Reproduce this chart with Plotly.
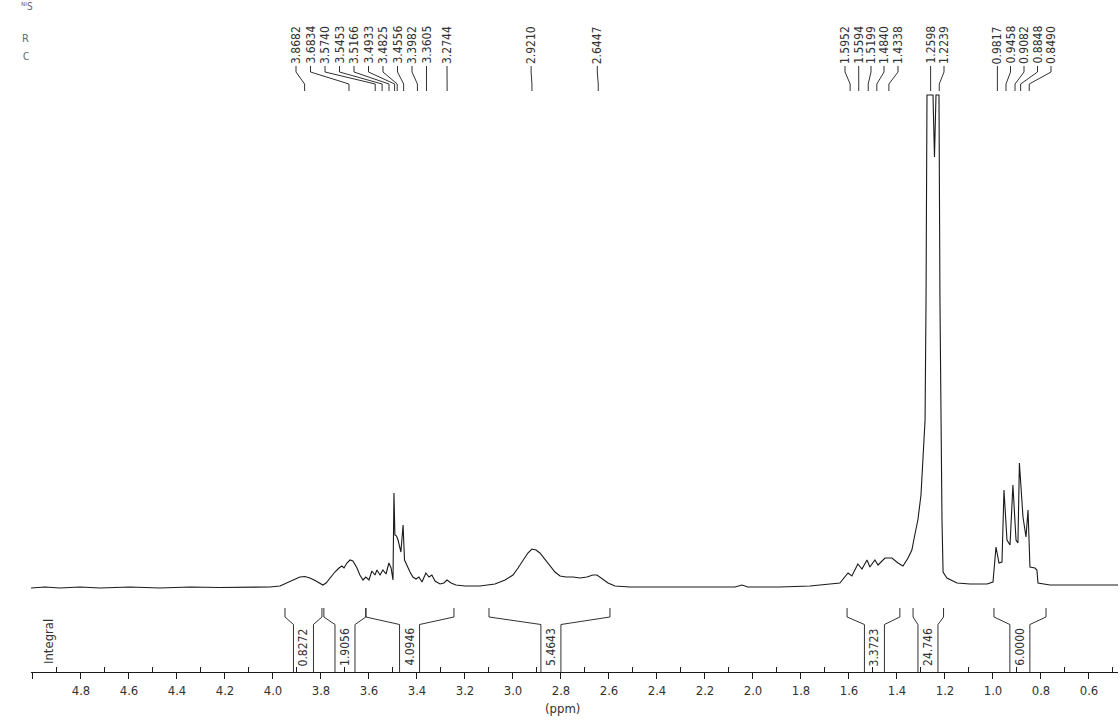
import plotly.graph_objects as go

# ---------------- data ----------------
# spectrum trace (chemical shift, ppm) and intensity (arbitrary units above baseline)
ppm = [5.008, 4.950, 4.888, 4.804, 4.721, 4.596, 4.471, 4.346, 4.221, 4.096, 4.013,
       3.971, 3.942, 3.917, 3.888, 3.867, 3.846, 3.821, 3.792, 3.779, 3.763, 3.742,
       3.725, 3.713, 3.704, 3.692, 3.679, 3.667, 3.650, 3.638, 3.625, 3.613, 3.600,
       3.588, 3.575, 3.567, 3.554, 3.542, 3.529, 3.517, 3.508, 3.500, 3.496, 3.492,
       3.485, 3.479, 3.467, 3.458, 3.452, 3.442, 3.429, 3.417, 3.404, 3.392, 3.379,
       3.363, 3.350, 3.338, 3.325, 3.304, 3.288, 3.275, 3.258, 3.238, 3.200, 3.138,
       3.075, 3.033, 3.000, 2.979, 2.958, 2.938, 2.921, 2.904, 2.888, 2.867, 2.846,
       2.825, 2.804, 2.779, 2.750, 2.721, 2.692, 2.667, 2.650, 2.629, 2.604, 2.575,
       2.513, 2.388, 2.221, 2.075, 2.046, 2.021, 1.888, 1.763, 1.679, 1.638, 1.604,
       1.588, 1.563, 1.546, 1.525, 1.513, 1.492, 1.479, 1.450, 1.421, 1.396, 1.375,
       1.354, 1.338, 1.325, 1.313, 1.300, 1.292, 1.283, 1.279, 1.275, 1.250, 1.2438,
       1.2375, 1.225, 1.221, 1.217, 1.2125, 1.208, 1.192, 1.150, 1.096, 1.025, 1.000,
       0.9875, 0.975, 0.9625, 0.9542, 0.9417, 0.929, 0.917, 0.904, 0.896, 0.890,
       0.875, 0.8625, 0.854, 0.846, 0.825, 0.817, 0.8125, 0.7625, 0.6375, 0.479]
intensity = [-1, 0, -1, 0, -1, 0, -1, 0, -0.5, 0, 0,
             1, 4, 7, 10, 10.5, 9, 6, 2, 4, 9, 15,
             19, 21, 19, 24, 27, 26, 19, 12, 7, 10, 7,
             16, 12, 17, 12, 17, 13, 24, 19, 7, 94, 52,
             51, 47, 35, 62, 27, 21, 15, 10, 8, 10, 5,
             14, 10, 12, 6, 3, 4, 7, 4, 2, 1, 1,
             3, 7, 12, 19, 27, 34, 38, 37, 34, 28, 21,
             15, 11, 10, 10, 9, 10, 12, 12, 8, 4, 1,
             0, 0, 0, 0, 2, 0, 0, 1, 3, 4, 14,
             11, 23, 18, 27, 20, 27, 22, 29, 29, 24, 21,
             29, 37, 53, 67, 92, 122, 167, 287, 492, 492, 430,
             492, 492, 287, 147, 67, 15, 9, 4, 3, 3, 5,
             40, 24, 25, 97, 47, 42, 102, 47, 44, 124,
             70, 50, 77, 20, 19, 17, 4, 2, 2, 2]

# picked peaks
peak_ppm = [3.8682, 3.6834, 3.5740, 3.5453, 3.5166, 3.4933, 3.4825, 3.4556, 3.3982,
            3.3605, 3.2744, 2.9210, 2.6447, 1.5952, 1.5594, 1.5199, 1.4840, 1.4338,
            1.2598, 1.2239, 0.9817, 0.9458, 0.9082, 0.8848, 0.8490]
peak_text = ["3.8682", "3.6834", "3.5740", "3.5453", "3.5166", "3.4933", "3.4825",
             "3.4556", "3.3982", "3.3605", "3.2744", "2.9210", "2.6447", "1.5952",
             "1.5594", "1.5199", "1.4840", "1.4338", "1.2598", "1.2239", "0.9817",
             "0.9458", "0.9082", "0.8848", "0.8490"]

# integrals: region start / end (ppm) and value
int_start = [3.950, 3.788, 3.613, 3.100, 1.608, 1.333, 0.996]
int_end = [3.796, 3.613, 3.246, 2.596, 1.388, 1.206, 0.779]
int_value = ["0.8272", "1.9056", "4.0946", "5.4643", "3.3723", "24.746", "6.0000"]

# axis ticks
major_ticks = [5.0, 4.8, 4.6, 4.4, 4.2, 4.0, 3.8, 3.6, 3.4, 3.2, 3.0, 2.8, 2.6, 2.4,
               2.2, 2.0, 1.8, 1.6, 1.4, 1.2, 1.0, 0.8, 0.6]
major_text = ["", "4.8", "4.6", "4.4", "4.2", "4.0", "3.8", "3.6", "3.4", "3.2", "3.0",
              "2.8", "2.6", "2.4", "2.2", "2.0", "1.8", "1.6", "1.4", "1.2", "1.0",
              "0.8", "0.6"]
minor_ticks = [4.9, 4.7, 4.5, 4.3, 4.1, 3.9, 3.7, 3.5, 3.3, 3.1, 2.9, 2.7, 2.5, 2.3,
               2.1, 1.9, 1.7, 1.5, 1.3, 1.1, 0.9, 0.7, 0.5]

# ---------------- layout constants ----------------
W, H = 1120, 720
ML, MR, MT, MB = 31, 2, 0, 48
PW, PH = W - ML - MR, H - MT - MB
PX_PER_PPM = 240.0
X_LEFT = 5.0083
X_RIGHT = X_LEFT - PW / PX_PER_PPM
FONT = "DejaVu Sans Condensed, DejaVu Sans, sans-serif"
INK = "#1a1a1a"
TXT = "#333333"


def px2ppm(xpx):
    return X_LEFT - (xpx - ML) / PX_PER_PPM


# label column positions (pixels) for the peak labels
label_col_px = [296, 310.5, 325, 339.5, 354, 368.5, 383, 397.5, 412, 426.5, 447,
                531.1, 597.3, 845, 858.7, 871, 884, 898, 930.6, 944, 997.4,
                1010.5, 1024, 1037.5, 1051]
int_label_ppm = [3.873, 3.700, 3.431, 2.842, 1.494, 1.271, 0.888]
HALF_BOX = 10 / PX_PER_PPM

fig = go.Figure()

# spectrum
fig.add_trace(go.Scatter(x=ppm, y=intensity, mode="lines",
                         line=dict(color=INK, width=1.1), hoverinfo="skip",
                         showlegend=False))

# peak label connectors (on layout-row axis y2, rows in px from top)
cx, cy = [], []
for lp, pk in zip(label_col_px, peak_ppm):
    lx = px2ppm(lp)
    cx += [lx, lx, pk, pk, None]
    cy += [66, 72, 84, 91, None]
fig.add_trace(go.Scatter(x=cx, y=cy, yaxis="y2", mode="lines",
                         line=dict(color=INK, width=0.9), hoverinfo="skip",
                         showlegend=False))

# integral brackets
bx, by = [], []
for s, e, c in zip(int_start, int_end, int_label_ppm):
    bx += [s, s, c + HALF_BOX, c + HALF_BOX, None, c - HALF_BOX, c - HALF_BOX, e, e, None]
    by += [608, 617, 624.5, PH, None, PH, 624.5, 617, 608, None]
fig.add_trace(go.Scatter(x=bx, y=by, yaxis="y2", mode="lines",
                         line=dict(color=INK, width=0.9), hoverinfo="skip",
                         showlegend=False))

annotations = []
for lp, t in zip(label_col_px, peak_text):
    annotations.append(dict(x=px2ppm(lp), y=45, xref="x", yref="y2", text=t,
                            textangle=-90, showarrow=False,
                            font=dict(family=FONT, size=12, color=TXT),
                            xanchor="center", yanchor="middle"))
for c, t in zip(int_label_ppm, int_value):
    annotations.append(dict(x=c, y=647, xref="x", yref="y2", text=t, textangle=-90,
                            showarrow=False, font=dict(family=FONT, size=12, color=TXT),
                            xanchor="center", yanchor="middle"))
annotations.append(dict(x=px2ppm(48), y=642, xref="x", yref="y2", text="Integral",
                        textangle=-90, showarrow=False,
                        font=dict(family=FONT, size=13, color=TXT),
                        xanchor="center", yanchor="middle"))


def paper_xy(xpx, ypx):
    return (xpx - ML) / PW, (MT + PH - ypx) / PH


px_, py_ = paper_xy(562, 708)
annotations.append(dict(x=px_, y=py_, xref="paper", yref="paper", text="(ppm)",
                        showarrow=False, font=dict(family=FONT, size=13, color=TXT),
                        xanchor="center", yanchor="middle"))
for (xx, yy, t, s) in [(27, 7, "ᴺᴵS", 10), (25, 38, "R", 11), (26, 56, "C", 10)]:
    a, b = paper_xy(xx, yy)
    annotations.append(dict(x=a, y=b, xref="paper", yref="paper", text=t,
                            showarrow=False, font=dict(family=FONT, size=s, color="#666"),
                            xanchor="center", yanchor="middle"))

fig.update_layout(
    width=W, height=H,
    margin=dict(l=ML, r=MR, t=MT, b=MB, pad=0),
    paper_bgcolor="white", plot_bgcolor="white",
    showlegend=False,
    font=dict(family=FONT, color=TXT),
    xaxis=dict(range=[X_LEFT, X_RIGHT], showgrid=False, zeroline=False,
               showline=True, linecolor=INK, linewidth=1,
               tickmode="array", tickvals=major_ticks, ticktext=major_text,
               ticks="outside", ticklen=6, tickwidth=1, tickcolor=INK,
               tickfont=dict(family=FONT, size=13, color=TXT),
               minor=dict(tickmode="array", tickvals=minor_ticks, ticks="inside",
                          ticklen=5, tickwidth=1, tickcolor=INK, showgrid=False),
               fixedrange=True),
    yaxis=dict(range=[-85, 587], domain=[0, 1], visible=False, showgrid=False,
               zeroline=False, fixedrange=True),
    yaxis2=dict(range=[PH, 0], overlaying="y", visible=False, showgrid=False,
                zeroline=False, fixedrange=True),
    annotations=annotations,
)

fig.write_html("out.html",
               config={"displayModeBar": False},
               post_script="document.body.style.margin='0';"
                           "document.body.style.overflow='hidden';")
